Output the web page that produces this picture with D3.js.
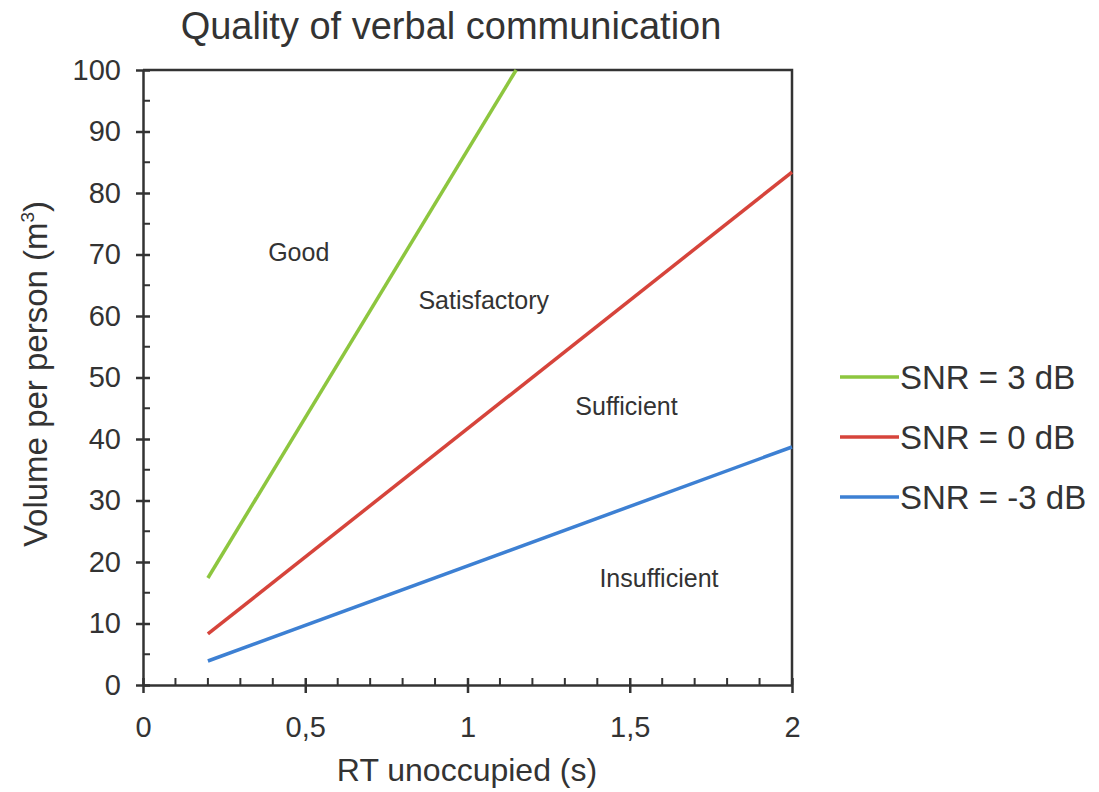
<!DOCTYPE html>
<html>
<head>
<meta charset="utf-8">
<script src="https://cdn.jsdelivr.net/npm/d3@7"></script>
<style>
  body { margin: 0; background: #fff; }
  svg text { font-family: "Liberation Sans", Arial, sans-serif; fill: #333; }
</style>
</head>
<body>
<svg id="chart" width="1099" height="792"></svg>
<script>
// series: straight lines, RT (s) vs volume per person (m3)
var seriesNames = ["SNR = 3 dB", "SNR = 0 dB", "SNR = -3 dB"];
var seriesColors = ["#8dc63f", "#d6443b", "#3d80d3"];
var greenPts = [[0.2, 17.4], [1.15, 100]];
var redPts = [[0.2, 8.3], [2, 83.4]];
var bluePts = [[0.2, 3.9], [2, 38.7]];
var xTicks = [0, 0.5, 1, 1.5, 2];
var yTicks = [0, 10, 20, 30, 40, 50, 60, 70, 80, 90, 100];
// region labels placed in data coords
var zoneNames = ["Good", "Satisfactory", "Sufficient", "Insufficient"];
var zoneX = [0.48, 1.05, 1.49, 1.59];
var zoneY = [70.4, 62.6, 45.4, 17.4];

var svg = d3.select('#chart');
var mLeft = 143, mRight = 792, mTop = 70, mBottom = 685;

var x = d3.scaleLinear().domain([0, 2]).range([mLeft, mRight]);
var y = d3.scaleLinear().domain([0, 100]).range([mBottom, mTop]);

var fmt = function(d){ return String(d).replace('.', ','); };

// frame (top and right)
svg.append('path')
  .attr('d', 'M' + mLeft + ',' + mTop + 'H' + mRight + 'V' + mBottom)
  .attr('fill', 'none').attr('stroke', '#333').attr('stroke-width', 2.5);

// minor ticks inside
var xMinor = d3.range(1, 20).filter(function(i){ return i % 5 != 0; }).map(function(i){ return i / 10; });
svg.append('g').selectAll('line').data(xMinor).enter().append('line')
  .attr('x1', function(d){ return x(d); }).attr('x2', function(d){ return x(d); })
  .attr('y1', mBottom).attr('y2', mBottom - 7)
  .attr('stroke', '#333').attr('stroke-width', 2);
var yMinor = d3.range(5, 100, 10);
svg.append('g').selectAll('line').data(yMinor).enter().append('line')
  .attr('x1', mLeft).attr('x2', mLeft + 7)
  .attr('y1', function(d){ return y(d); }).attr('y2', function(d){ return y(d); })
  .attr('stroke', '#333').attr('stroke-width', 2);

// axes
var xAxis = svg.append('g').attr('transform', 'translate(0,' + mBottom + ')')
  .call(d3.axisBottom(x).tickValues(xTicks).tickFormat(fmt).tickSizeInner(8).tickSizeOuter(0).tickPadding(23));
xAxis.selectAll('.tick line').attr('y1', -7);
var yAxis = svg.append('g').attr('transform', 'translate(' + mLeft + ',0)')
  .call(d3.axisLeft(y).tickValues(yTicks).tickSizeInner(7).tickSizeOuter(0).tickPadding(15));
yAxis.selectAll('.tick line').attr('x1', 7);
[xAxis, yAxis].forEach(function(a){
  a.select('.domain').attr('stroke', '#333').attr('stroke-width', 2.5);
  a.selectAll('.tick line').attr('stroke', '#333').attr('stroke-width', 2.5);
  a.selectAll('.tick text').attr('font-size', 29).attr('fill', '#444')
    .style('font-family', '"Liberation Sans", Arial, sans-serif');
});

// lines
var line = d3.line().x(function(d){ return x(d[0]); }).y(function(d){ return y(d[1]); });
var allSeries = [greenPts, redPts, bluePts];
svg.append('g').selectAll('path').data(allSeries).enter().append('path')
  .attr('d', line)
  .attr('fill', 'none')
  .attr('stroke', function(d, i){ return seriesColors[i]; })
  .attr('stroke-width', 3.5);

// zone labels
svg.append('g').selectAll('text').data(zoneNames).enter().append('text')
  .attr('x', function(d, i){ return x(zoneX[i]); })
  .attr('y', function(d, i){ return y(zoneY[i]); })
  .attr('dy', '0.35em')
  .attr('text-anchor', 'middle')
  .attr('font-size', 25)
  .text(function(d){ return d; });

// title & axis titles
svg.append('text').attr('x', 451).attr('y', 39).attr('text-anchor', 'middle')
  .attr('font-size', 38).text('Quality of verbal communication');
svg.append('text').attr('x', 467).attr('y', 781).attr('text-anchor', 'middle')
  .attr('font-size', 32).text('RT unoccupied (s)');
var yl = svg.append('text').attr('transform', 'translate(47,374) rotate(-90)')
  .attr('text-anchor', 'middle').attr('font-size', 33);
yl.append('tspan').text('Volume per person (m');
yl.append('tspan').attr('font-size', 19).attr('dy', -13).text('3');
yl.append('tspan').attr('dy', 13).text(')');

// legend
var legend = svg.append('g').selectAll('g').data(seriesNames).enter().append('g')
  .attr('transform', function(d, i){ return 'translate(840,' + (377 + i * 60) + ')'; });
legend.append('line').attr('x1', 0).attr('x2', 59)
  .attr('stroke', function(d, i){ return seriesColors[i]; }).attr('stroke-width', 3.5);
legend.append('text').attr('x', 60).attr('dy', '0.36em').attr('font-size', 33)
  .text(function(d){ return d; });
</script>
</body>
</html>
